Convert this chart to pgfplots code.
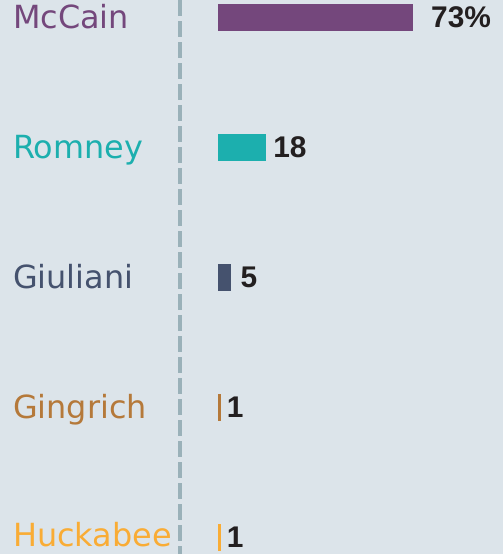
\documentclass[border=0pt]{standalone}
\usepackage{pgfplots}
\pgfplotsset{compat=1.18}
\usepackage{fontspec}
\setmainfont{DejaVu Sans}
\newfontfamily\numfont{Liberation Sans}
\definecolor{bg}{HTML}{DCE4EA}
\definecolor{dashc}{HTML}{9AB1B9}
\definecolor{cMcCain}{HTML}{74477C}
\definecolor{cRomney}{HTML}{1CAFAE}
\definecolor{cGiuliani}{HTML}{45526E}
\definecolor{cGingrich}{HTML}{B5793A}
\definecolor{cHuckabee}{HTML}{F9AC35}
\definecolor{numc}{HTML}{231F20}
\begin{document}
\begin{tikzpicture}
\begin{axis}[
  scale only axis, width=503bp, height=554bp,
  xmin=-81.62, xmax=106.70,
  ymin=-0.1346, ymax=4.1269, y dir=reverse,
  hide axis, clip=false,
  xbar, bar shift=0pt, bar width=27bp,
  nodes near coords,
  point meta=explicit symbolic,
  every node near coord/.append style={anchor=west, inner sep=0pt, text=numc,
     font=\numfont\bfseries\fontsize{30}{32}\selectfont},
]
\fill[bg] (rel axis cs:0,0) rectangle (rel axis cs:1,1);
\coordinate (bl) at (rel axis cs:0,0);
\coordinate (tr) at (rel axis cs:1,1);
\draw[dashc, line width=4bp, dash pattern=on 16bp off 5bp]
  (axis cs:-14.23,-0.1346) -- (axis cs:-14.23,4.1269);
\addplot[fill=cMcCain, draw=none, every node near coord/.append style={xshift=18bp}]
  coordinates {(73,0) [73\%]};
\addplot[fill=cRomney, draw=none, every node near coord/.append style={xshift=7bp}]
  coordinates {(18,1) [18]};
\addplot[fill=cGiuliani, draw=none, every node near coord/.append style={xshift=9bp}]
  coordinates {(5,2) [5]};
\addplot[fill=cGingrich, draw=none, every node near coord/.append style={xshift=6bp}]
  coordinates {(1,3) [1]};
\addplot[fill=cHuckabee, draw=none, every node near coord/.append style={xshift=6bp}]
  coordinates {(1,4) [1]};
\begin{scope}[every node/.style={anchor=base west, inner sep=0pt, yshift=-11bp, font=\fontsize{32}{36}\selectfont}]
\node[text=cMcCain] at (axis cs:-76.8,0) {McCain};
\node[text=cRomney] at (axis cs:-76.8,1) {Romney};
\node[text=cGiuliani] at (axis cs:-76.8,2) {Giuliani};
\node[text=cGingrich] at (axis cs:-76.8,3) {Gingrich};
\node[text=cHuckabee, yshift=2bp] at (axis cs:-76.8,4) {Huckabee};
\end{scope}
\end{axis}
\pgfresetboundingbox
\useasboundingbox (bl) rectangle (tr);
\end{tikzpicture}
\end{document}
